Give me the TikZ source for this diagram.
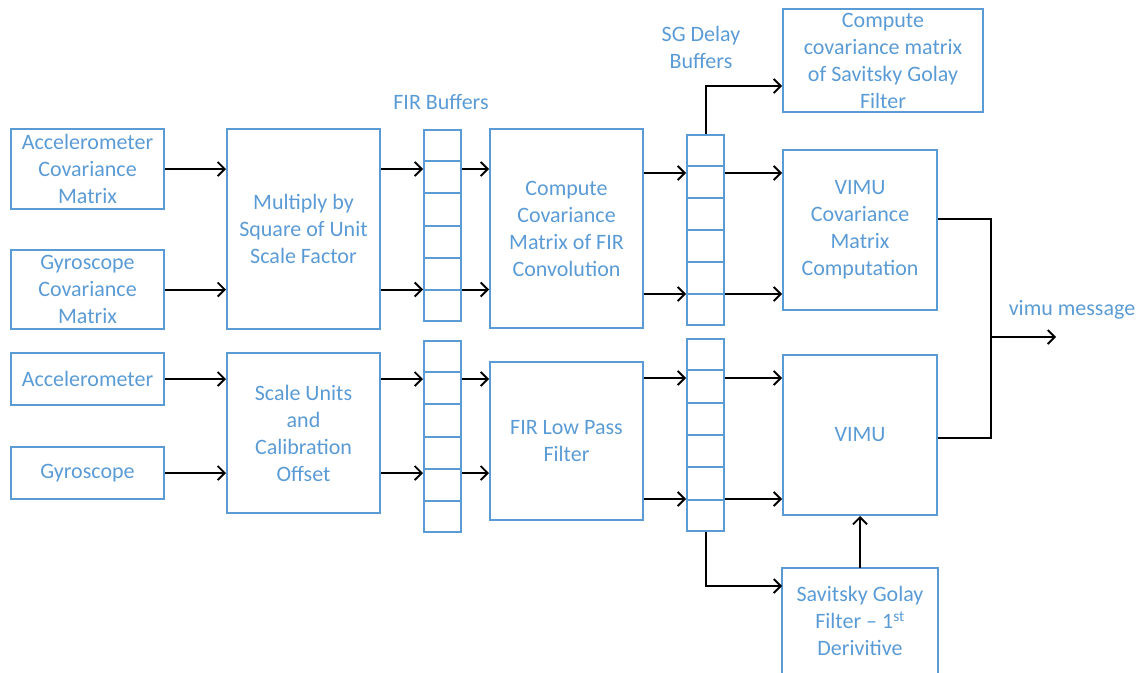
\documentclass[tikz,border=0pt]{standalone}
\usepackage{fontspec}
\setmainfont{Carlito}
\usetikzlibrary{arrows.meta,calc}
\definecolor{boxblue}{RGB}{91,155,213}
\begin{document}
\begin{tikzpicture}[x=1pt, y=-1pt,
    >={Straight Barb[length=7pt,width=14pt,line width=1.8pt]},
    line width=2pt,
    font=\fontsize{22}{27}\selectfont,
    block/.style={draw=boxblue, line width=2pt, text=boxblue, align=center,
        rectangle, inner sep=0pt},
    buffer/.style={draw=boxblue, line width=2pt, rectangle, inner sep=0pt,
        minimum width=37pt},
    lbl/.style={text=boxblue, align=center, inner sep=0pt}]
    \useasboundingbox (0,0) rectangle (1147,672);
    \def\W{153}

    % Inputs
    \node[block, minimum width=\W, minimum height=80] (acccov) at (87.5,169)
        {Accelerometer\\Covariance\\Matrix};
    \node[block, minimum width=\W, minimum height=79] (gyrcov) at (87.5,289.5)
        {Gyroscope\\Covariance\\Matrix};
    \node[block, minimum width=\W, minimum height=52] (acc) at (87.5,379) {Accelerometer};
    \node[block, minimum width=\W, minimum height=52] (gyr) at (87.5,473) {Gyroscope};

    % Scaling
    \node[block, minimum width=\W, minimum height=200] (mult) at (303.5,229)
        {Multiply by\\Square of Unit\\Scale Factor};
    \node[block, minimum width=\W, minimum height=160] (scale) at (303.5,433)
        {Scale Units\\and\\Calibration\\Offset};

    % FIR buffers
    \node[lbl] (firlbl) at (441,102) {FIR Buffers};
    \node[buffer, minimum height=191] (fira) at (442.5,225.5) {};
    \node[buffer, minimum height=191] (firb) at (442.5,436.5) {};

    % FIR stage
    \node[block, minimum width=\W, minimum height=199] (compcov) at (566.5,228.5)
        {Compute\\Covariance\\Matrix of FIR\\Convolution};
    \node[block, minimum width=\W, minimum height=158] (lpf) at (566.5,441)
        {FIR Low Pass\\Filter};

    % SG delay buffers
    \node[lbl] (sglbl) at (701,47) {SG Delay\\Buffers};
    \node[buffer, minimum height=190] (sga) at (705.5,230) {};
    \node[buffer, minimum height=192] (sgb) at (705.5,435) {};

    % cells
    \foreach \b in {fira,firb,sga,sgb}{
        \foreach \i in {1,...,5}{
            \draw[boxblue] ($(\b.north west)!\i/6!(\b.south west)$)
                -- ($(\b.north east)!\i/6!(\b.south east)$);
        }
    }

    % Outputs
    \node[block, minimum width=200, minimum height=103] (sgcov) at (883,60.5)
        {Compute\\covariance matrix\\of Savitsky Golay\\Filter};
    \node[block, minimum width=154, minimum height=160] (vimucov) at (860,230)
        {VIMU\\Covariance\\Matrix\\Computation};
    \node[block, minimum width=154, minimum height=160] (vimu) at (860,435) {VIMU};
    % box runs off the bottom edge
    \node[block, draw=none, minimum width=154, minimum height=104] (sgfilt) at (860,621)
        {Savitsky Golay\\Filter -- 1\textsuperscript{st}\\Derivitive};
    \draw[boxblue] (sgfilt.north west) rectangle ([yshift=-30]sgfilt.south east);
    \node[lbl] (msg) at (1072,310) {vimu message};

    % Connections
    \draw[->] (acccov) -- (acccov -| mult.west);
    \draw[->] (gyrcov) -- (gyrcov -| mult.west);
    \draw[->] (acc) -- (acc -| scale.west);
    \draw[->] (gyr) -- (gyr -| scale.west);
    \foreach \r in {acccov,gyrcov}{
        \draw[->] (mult.east |- \r) -- (fira.west |- \r);
        \draw[->] (fira.east |- \r) -- (compcov.west |- \r);
    }
    \foreach \r in {acc,gyr}{
        \draw[->] (scale.east |- \r) -- (firb.west |- \r);
        \draw[->] (firb.east |- \r) -- (lpf.west |- \r);
    }
    \foreach \y in {173,294}{
        \draw[->] (compcov.east |- 0,\y) -- (sga.west |- 0,\y);
        \draw[->] (sga.east |- 0,\y) -- (vimucov.west |- 0,\y);
    }
    \foreach \y in {378,499}{
        \draw[->] (lpf.east |- 0,\y) -- (sgb.west |- 0,\y);
        \draw[->] (sgb.east |- 0,\y) -- (vimu.west |- 0,\y);
    }
    \draw[->] (sga.north) |- (sgcov.west |- 0,86);
    \draw[->] (sgb.south) |- (sgfilt.west |- 0,586);
    \draw[->] (sgfilt.north) -- (vimu.south);

    % Merge
    \coordinate (jn) at (991,337);
    \coordinate (out) at (1056,337);
    \draw (vimucov.east |- 0,219) -| (jn);
    \draw (vimu.east |- 0,438) -| (jn);
    \draw[->] (jn) -- (out);
\end{tikzpicture}
\end{document}
